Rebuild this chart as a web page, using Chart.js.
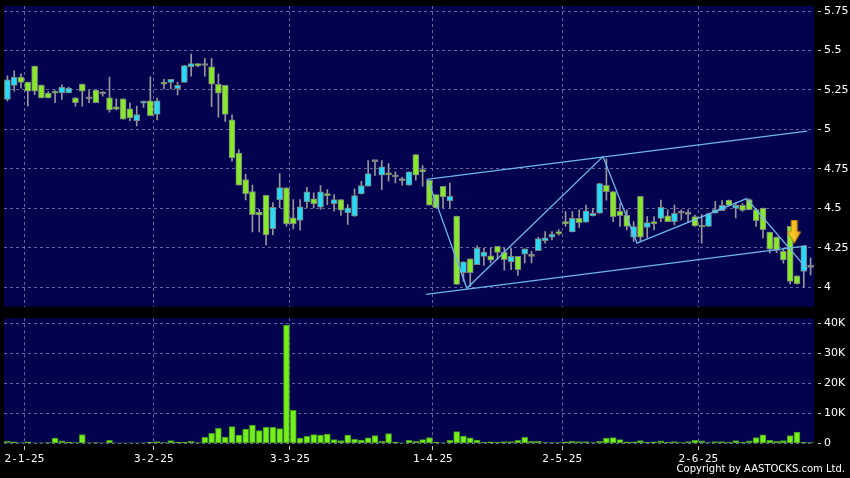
<!DOCTYPE html>
<html>
<head>
<meta charset="utf-8">
<title>Candles</title>
<script src="https://cdn.jsdelivr.net/npm/chart.js@4.4.1/dist/chart.umd.min.js"></script>
<style>
  html, body { margin: 0; padding: 0; background: #000; }
  #wrap { position: relative; width: 850px; height: 478px; overflow: hidden; background: #000; }
  #price-box { position: absolute; left: 0; top: 0; width: 850px; height: 307px; }
  #vol-box { position: absolute; left: 0; top: 307px; width: 850px; height: 171px; }
  #copyright { position: absolute; right: 5px; top: 463px; color: #fff; font: 10px 'DejaVu Sans', sans-serif; white-space: nowrap; }
</style>
</head>
<body>
<div id="wrap">
  <div id="price-box"><canvas id="price-chart"></canvas></div>
  <div id="vol-box"><canvas id="vol-chart"></canvas></div>
  <div id="copyright">Copyright by AASTOCKS.com Ltd.</div>
</div>
<script>
// --- Data (one entry per trading day) ---
const opens = [5.19, 5.279, 5.331, 5.30, 5.402, 5.281, 5.231, 5.24, 5.231, 5.231,
  5.20, 5.287, 5.194, 5.25, 5.225, 5.20, 5.144, 5.194, 5.131, 5.056,
  5.166, 5.181, 5.095, 5.30, 5.298, 5.258, 5.298, 5.397, 5.418, 5.405,
  5.397, 5.286, 5.279, 5.061, 4.851, 4.683, 4.607, 4.475, 4.582, 4.372,
  4.553, 4.63, 4.44, 4.423, 4.541, 4.56, 4.507, 4.594, 4.53, 4.556,
  4.471, 4.45, 4.592, 4.64, 4.796, 4.71, 4.72, 4.70, 4.676, 4.647,
  4.84, 4.746, 4.677, 4.587, 4.639, 4.547, 4.451, 4.092, 4.18, 4.144,
  4.196, 4.20, 4.259, 4.221, 4.161, 4.196, 4.21, 4.196, 4.232, 4.296,
  4.317, 4.353, 4.416, 4.35, 4.437, 4.412, 4.452, 4.469, 4.646, 4.607,
  4.483, 4.456, 4.318, 4.577, 4.379, 4.416, 4.437, 4.452, 4.416, 4.469,
  4.462, 4.448, 4.388, 4.386, 4.47, 4.485, 4.553, 4.502, 4.519, 4.555,
  4.492, 4.502, 4.35, 4.318, 4.227, 4.386, 4.073, 4.10, 4.126];
const highs = [5.34, 5.371, 5.352, 5.30, 5.402, 5.281, 5.24, 5.246, 5.283, 5.269,
  5.20, 5.287, 5.246, 5.25, 5.24, 5.331, 5.194, 5.194, 5.169, 5.148,
  5.18, 5.334, 5.198, 5.317, 5.317, 5.298, 5.405, 5.477, 5.418, 5.45,
  5.45, 5.351, 5.279, 5.093, 4.872, 4.715, 4.647, 4.494, 4.582, 4.536,
  4.721, 4.63, 4.556, 4.556, 4.634, 4.598, 4.645, 4.619, 4.587, 4.556,
  4.524, 4.623, 4.672, 4.803, 4.796, 4.803, 4.784, 4.731, 4.697, 4.731,
  4.84, 4.771, 4.677, 4.587, 4.639, 4.66, 4.451, 4.161, 4.18, 4.263,
  4.248, 4.248, 4.259, 4.248, 4.248, 4.196, 4.244, 4.227, 4.317, 4.353,
  4.353, 4.365, 4.479, 4.479, 4.49, 4.521, 4.50, 4.66, 4.814, 4.607,
  4.53, 4.49, 4.416, 4.577, 4.448, 4.448, 4.552, 4.49, 4.521, 4.49,
  4.49, 4.458, 4.46, 4.47, 4.544, 4.55, 4.553, 4.534, 4.53, 4.56,
  4.50, 4.502, 4.35, 4.318, 4.248, 4.386, 4.073, 4.263, 4.185];
const lows = [5.18, 5.242, 5.262, 5.148, 5.221, 5.20, 5.20, 5.169, 5.19, 5.231,
  5.148, 5.148, 5.169, 5.169, 5.21, 5.11, 5.123, 5.065, 5.054, 5.023,
  5.14, 5.088, 5.061, 5.256, 5.256, 5.219, 5.298, 5.338, 5.397, 5.338,
  5.145, 5.078, 5.051, 4.799, 4.647, 4.553, 4.351, 4.351, 4.269, 4.332,
  4.505, 4.387, 4.37, 4.362, 4.503, 4.503, 4.493, 4.524, 4.482, 4.455,
  4.398, 4.45, 4.592, 4.64, 4.708, 4.619, 4.672, 4.661, 4.647, 4.647,
  4.678, 4.64, 4.52, 4.503, 4.505, 4.499, 4.018, 4.039, 4.004, 4.144,
  4.138, 4.154, 4.175, 4.108, 4.112, 4.075, 4.154, 4.154, 4.232, 4.28,
  4.30, 4.33, 4.385, 4.35, 4.38, 4.412, 4.452, 4.469, 4.552, 4.416,
  4.385, 4.364, 4.291, 4.291, 4.312, 4.364, 4.416, 4.416, 4.395, 4.427,
  4.416, 4.385, 4.28, 4.386, 4.47, 4.485, 4.519, 4.439, 4.48, 4.49,
  4.386, 4.312, 4.217, 4.22, 4.153, 4.022, 4.022, 4.0, 4.079];
const closes = [5.315, 5.331, 5.298, 5.242, 5.242, 5.20, 5.20, 5.23, 5.269, 5.262,
  5.169, 5.242, 5.194, 5.169, 5.225, 5.123, 5.129, 5.065, 5.073, 5.094,
  5.179, 5.088, 5.181, 5.286, 5.317, 5.279, 5.405, 5.418, 5.403, 5.405,
  5.286, 5.229, 5.095, 4.82, 4.647, 4.593, 4.46, 4.458, 4.332, 4.507,
  4.631, 4.402, 4.402, 4.51, 4.604, 4.528, 4.604, 4.58, 4.556, 4.488,
  4.503, 4.581, 4.645, 4.72, 4.796, 4.763, 4.712, 4.70, 4.676, 4.731,
  4.71, 4.731, 4.52, 4.503, 4.572, 4.577, 4.018, 4.161, 4.092, 4.248,
  4.223, 4.171, 4.221, 4.175, 4.196, 4.112, 4.244, 4.196, 4.309, 4.313,
  4.336, 4.338, 4.402, 4.437, 4.41, 4.485, 4.469, 4.657, 4.605, 4.448,
  4.454, 4.385, 4.385, 4.318, 4.41, 4.402, 4.506, 4.416, 4.469, 4.469,
  4.462, 4.389, 4.382, 4.466, 4.492, 4.519, 4.519, 4.519, 4.487, 4.492,
  4.422, 4.365, 4.242, 4.234, 4.174, 4.037, 4.022, 4.263, 4.126];
// volume in thousands of shares
const volumes = [0.7, 0.45, 0.1, 0.45, 0.05, 0.05, 0.2, 1.7, 0.8, 0.3,
  0.2, 2.9, 0.1, 0.2, 0.05, 1.0, 0.05, 0.05, 0.05, 0.05,
  0.1, 0.3, 0.55, 0.2, 0.9, 0.3, 0.3, 0.65, 0.2, 2.0,
  3.3, 5.0, 2.1, 5.6, 2.7, 4.7, 6.1, 4.2, 5.3, 5.3,
  4.9, 39.4, 11.0, 1.7, 2.3, 2.9, 2.7, 3.1, 1.2, 0.9,
  2.7, 1.3, 1.1, 1.8, 2.6, 0.65, 3.2, 0.3, 0.05, 1.0,
  0.65, 1.2, 1.9, 0.3, 0.1, 1.0, 3.9, 2.4, 1.8, 1.1,
  0.35, 0.45, 0.35, 0.55, 0.55, 1.0, 2.0, 0.65, 0.65, 0.2,
  0.2, 0.2, 0.5, 0.65, 0.55, 0.55, 0.2, 0.65, 1.7, 1.9,
  1.2, 0.45, 0.45, 0.9, 0.35, 0.45, 0.8, 0.35, 0.55, 0.2,
  0.55, 1.0, 0.8, 0.2, 0.55, 0.55, 0.35, 0.9, 0.35, 0.8,
  1.9, 2.8, 1.0, 0.65, 0.9, 2.6, 3.7, 0.35, 0.2];

// month boundaries (day index) and their labels
const monthTicks = [2.5, 21.5, 41.5, 62.5, 81.5, 101.5];
const monthLabels = ['2-1-25', '3-2-25', '3-3-25', '1-4-25', '2-5-25', '2-6-25'];
const priceTicks = [4, 4.25, 4.5, 4.75, 5, 5.25, 5.5, 5.75];
const volTicks = [0, 10, 20, 30, 40];

// trend lines drawn on the chart (day index, price)
const upperChannel = [[61.6, 4.683], [117.5, 4.989]];
const lowerChannel = [[61.5, 3.955], [117.4, 4.263]];
const zigzag = [[61.8, 4.679], [67.5, 3.994], [87.5, 4.828], [92.5, 4.28], [108.6, 4.562], [117.5, 4.115]];
const signalArrow = [[115.6, 4.352]];

// --- Colours ---
const navy = '#02024e';
const gridColor = 'rgba(135,135,185,0.75)';
const upColor = 'rgb(40,218,246)';
const downColor = 'rgb(136,232,44)';
const flatColor = 'rgb(150,160,150)';
const wickColor = 'rgb(150,150,155)';
const lineColor = 'rgb(110,182,238)';

Chart.defaults.font.family = "'DejaVu Sans', sans-serif";
Chart.defaults.font.size = 11;
Chart.defaults.color = '#f0f0f0';

const panelBg = {
  id: 'panelBg',
  beforeDraw(chart) {
    const a = chart.chartArea;
    const ctx = chart.ctx;
    ctx.save();
    ctx.fillStyle = navy;
    ctx.fillRect(a.left, a.top, a.right - a.left, a.bottom - a.top);
    ctx.restore();
  }
};

function toPoints(pairs) {
  return pairs.map(p => ({ x: p[0], y: p[1] }));
}

function candleColor(i) {
  if (closes[i] > opens[i]) return upColor;
  if (closes[i] < opens[i]) return downColor;
  return flatColor;
}

// yellow down arrow used as point style
function makeArrow() {
  const c = document.createElement('canvas');
  c.width = 14;
  c.height = 24;
  const g = c.getContext('2d');
  const grad = g.createLinearGradient(0, 0, 14, 0);
  grad.addColorStop(0, '#ffe23a');
  grad.addColorStop(1, '#f0a010');
  g.beginPath();
  g.moveTo(4, 0.5);
  g.lineTo(10, 0.5);
  g.lineTo(10, 12);
  g.lineTo(13.5, 12);
  g.lineTo(7, 23.5);
  g.lineTo(0.5, 12);
  g.lineTo(4, 12);
  g.closePath();
  g.fillStyle = grad;
  g.fill();
  g.strokeStyle = '#b87a10';
  g.lineWidth = 1;
  g.stroke();
  return c;
}

// right-hand value axis, chart area edges set only by layout padding
function valueScale(min, max, ticks, fmt) {
  return {
    position: 'right',
    min: min,
    max: max,
    afterBuildTicks: s => { s.ticks = ticks.map(v => ({ value: v })); },
    afterFit: s => { s.width = 36; s.paddingTop = 0; s.paddingBottom = 0; },
    grid: {
      color: gridColor,
      tickLength: 7,
      tickColor: '#c8c8c8',
      tickBorderDash: [0, 4, 3, 100]
    },
    border: { display: false, dash: [3, 3] },
    ticks: { padding: 3, color: '#ffffff', callback: fmt }
  };
}

function xScale(showLabels) {
  return {
    type: 'linear',
    min: -0.5,
    max: opens.length - 0.5,
    offset: false,
    afterBuildTicks: s => { s.ticks = monthTicks.map(v => ({ value: v })); },
    afterFit: s => { s.height = showLabels ? 34.7 : 0; },
    grid: {
      offset: false,
      color: gridColor,
      drawTicks: showLabels,
      tickLength: 8,
      tickColor: '#c8c8c8',
      tickBorderDash: [0, 3, 4, 100]
    },
    border: { display: false, dash: [3, 3] },
    ticks: {
      display: showLabels,
      autoSkip: false,
      maxRotation: 0,
      padding: 1,
      font: { family: "'DejaVu Sans Mono', monospace", size: 11 },
      color: '#ffffff',
      callback: v => monthLabels[monthTicks.indexOf(v)]
    }
  };
}

// --- Price panel ---
const priceChart = new Chart(document.getElementById('price-chart'), {
  type: 'bar',
  data: {
    datasets: [
      {
        type: 'line',
        data: toPoints(signalArrow),
        showLine: false,
        pointStyle: makeArrow(),
        pointRadius: 10,
        order: 0
      },
      {
        type: 'line',
        data: toPoints(upperChannel),
        borderColor: lineColor,
        borderWidth: 1.3,
        pointRadius: 0,
        order: 1
      },
      {
        type: 'line',
        data: toPoints(lowerChannel),
        borderColor: lineColor,
        borderWidth: 1.3,
        pointRadius: 0,
        order: 1
      },
      {
        type: 'line',
        data: toPoints(zigzag),
        borderColor: lineColor,
        borderWidth: 1.3,
        pointRadius: 0,
        order: 1
      },
      {
        label: 'body',
        data: opens.map((o, i) => ({ x: i, y: [o, closes[i]] })),
        backgroundColor: ctx => candleColor(ctx.dataIndex),
        borderColor: 'rgb(125,130,125)',
        borderWidth: 1,
        borderSkipped: false,
        barThickness: 6,
        minBarLength: 2,
        order: 2
      },
      {
        label: 'wick',
        data: lows.map((l, i) => ({ x: i, y: [l, highs[i]] })),
        backgroundColor: wickColor,
        barThickness: 1,
        order: 3
      }
    ]
  },
  options: {
    responsive: true,
    maintainAspectRatio: false,
    animation: false,
    events: [],
    grouped: false,
    layout: { autoPadding: false, padding: { left: 4, top: 6, right: 0, bottom: 0.3 } },
    plugins: { legend: { display: false }, tooltip: { enabled: false } },
    scales: {
      x: xScale(false),
      y: valueScale(3.877, 5.782, priceTicks, v => String(v))
    }
  },
  plugins: [panelBg]
});

// --- Volume panel ---
const volChart = new Chart(document.getElementById('vol-chart'), {
  type: 'bar',
  data: {
    datasets: [{
      data: volumes.map((v, i) => ({ x: i, y: v })),
      backgroundColor: 'rgb(118,238,26)',
      borderColor: 'rgb(64,150,34)',
      borderWidth: 1,
      borderSkipped: false,
      barThickness: 6
    }]
  },
  options: {
    responsive: true,
    maintainAspectRatio: false,
    animation: false,
    events: [],
    layout: { autoPadding: false, padding: { left: 4, top: 11.3, right: 0, bottom: 0 } },
    plugins: { legend: { display: false }, tooltip: { enabled: false } },
    scales: {
      x: xScale(true),
      y: valueScale(0, 41.67, volTicks, v => (v === 0 ? '0' : v + 'K'))
    }
  },
  plugins: [panelBg]
});
</script>
</body>
</html>
